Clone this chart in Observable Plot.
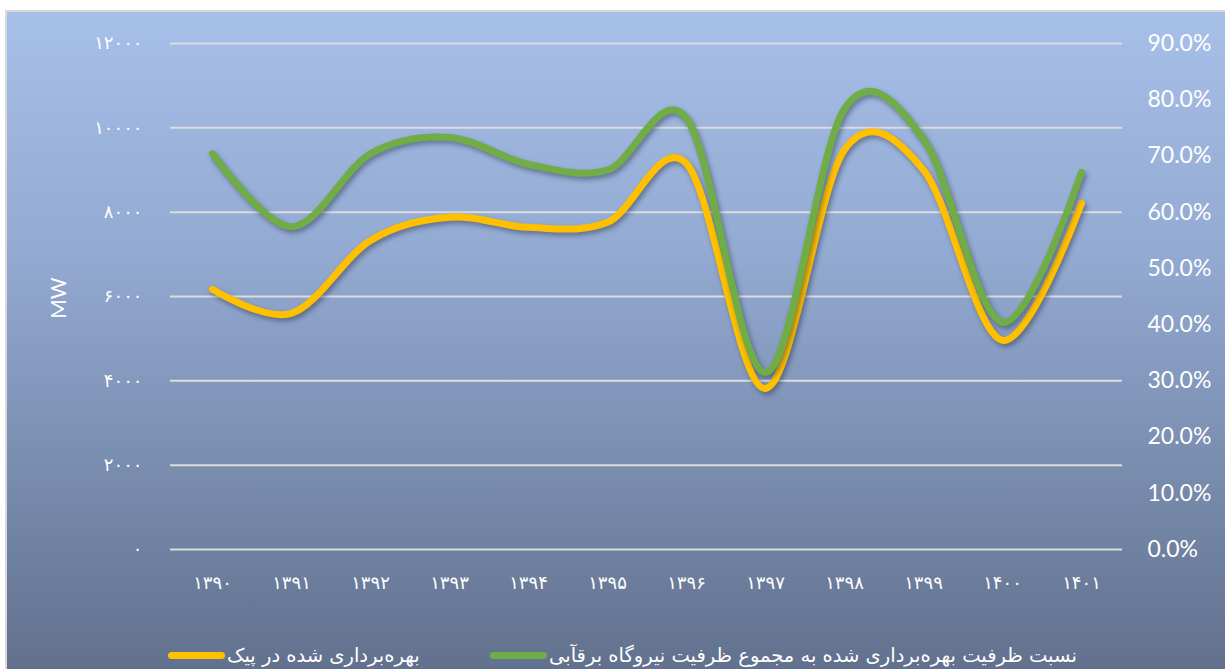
<!DOCTYPE html>
<html>
<head>
<meta charset="utf-8">
<script src="https://cdn.jsdelivr.net/npm/d3@7"></script>
<script src="https://cdn.jsdelivr.net/npm/@observablehq/plot@0.6"></script>
<style>
html,body{margin:0;padding:0;background:#fff;width:1225px;height:669px;overflow:hidden;position:relative;}
#bg{position:absolute;left:5px;top:10px;width:1240px;height:680px;box-sizing:border-box;border-left:2px solid #d9d9d9;border-top:2px solid #d9d9d9;
  background:linear-gradient(to bottom,#a7c0e9 0%,#93aad2 35%,#7b8fb1 65%,#5f6e8a 100%);}
#chart{position:absolute;left:0;top:0;}
#chart g[aria-label="line"] path{filter:drop-shadow(2px 3px 2.5px rgba(30,40,60,0.45));}
#chart g[aria-label="y-axis tick label"][text-anchor="end"] text{letter-spacing:2.5px;}
#chart g[aria-label="x-axis tick label"] text{letter-spacing:1.5px;}
#mw{position:absolute;left:57px;top:298px;transform:translate(-50%,-50%) rotate(-90deg);font-family:Lato,"Open Sans",sans-serif;font-size:21px;color:#fff;white-space:nowrap;}
.item{position:absolute;top:641px;height:28px;display:flex;align-items:center;}
.sw{width:57px;height:7px;border-radius:4px;}
.lt{font-family:"DejaVu Sans",sans-serif;font-size:19.5px;color:#fff;direction:rtl;white-space:nowrap;margin-left:2px;}
</style>
</head>
<body>
<div id="bg"></div>
<div id="chart"></div>
<div id="mw">MW</div>
<div class="item" style="left:168px"><div class="sw" style="background:#ffc000"></div><div class="lt" id="l1"></div></div>
<div class="item" style="left:490px"><div class="sw" style="background:#70ad47"></div><div class="lt" id="l2"></div></div>
<script>
// Categories (Persian years)
const years = ["۱۳۹۰","۱۳۹۱","۱۳۹۲","۱۳۹۳","۱۳۹۴","۱۳۹۵","۱۳۹۶","۱۳۹۷","۱۳۹۸","۱۳۹۹","۱۴۰۰","۱۴۰۱"];
// Exploited capacity at peak (MW) - left axis
const peakMW = [6170, 5600, 7330, 7880, 7640, 7760, 9150, 3820, 9480, 9000, 4960, 8210];
// Ratio of exploited capacity to total hydro capacity (%) - right axis
const ratioPct = [70.4, 57.4, 70.4, 73.3, 68.5, 67.5, 76.7, 31.5, 78.4, 73.0, 40.4, 67.1];
// Tick values
const leftTicks = [0, 2000, 4000, 6000, 8000, 10000, 12000];
const rightTicks = [0, 10, 20, 30, 40, 50, 60, 70, 80, 90];
const seriesNames = ["بهره‌برداری شده در پیک", "نسبت ظرفیت بهره‌برداری شده به مجموع ظرفیت نیروگاه برقآبی"];
const leftMax = 12000, rightMax = 90;

const faDigits = "۰۱۲۳۴۵۶۷۸۹";
const toFa = n => String(n).replace(/[0-9]/g, c => faDigits[+c]);

const data = years.map((y, i) => ({year: y, mw: peakMW[i], pct: ratioPct[i]}));

const chart = Plot.plot({
  width: 1225,
  height: 600,
  marginLeft: 170,
  marginRight: 103,
  marginTop: 43,
  marginBottom: 51,
  style: {background: "transparent", color: "#ffffff", overflow: "visible"},
  x: {type: "point", domain: years, padding: 0.5},
  y: {domain: [0, leftMax]},
  marks: [
    Plot.gridY(leftTicks, {stroke: "#dcdcdc", strokeOpacity: 1, strokeWidth: 2}),
    Plot.axisY(leftTicks, {anchor: "left", tickSize: 0, tickPadding: 28, tickFormat: toFa, label: null,
      fontFamily: "DejaVu Sans", fontSize: 18, fill: "#ffffff"}),
    Plot.axisY(rightTicks.map(p => p / rightMax * leftMax), {anchor: "right", tickSize: 0, tickPadding: 25, label: null,
      tickFormat: (d, i) => rightTicks[i].toFixed(1) + "%", textAnchor: "start",
      fontFamily: "Lato", fontSize: 23, fill: "#ffffff"}),
    Plot.axisX({tickSize: 0, tickPadding: 27, label: null, fontFamily: "DejaVu Sans", fontSize: 18, fill: "#ffffff"}),
    Plot.line(data, {x: "year", y: "mw", stroke: "#ffc000", strokeWidth: 7, curve: "cardinal", tension: 0, strokeLinecap: "round"}),
    Plot.line(data, {x: "year", y: d => d.pct / rightMax * leftMax, stroke: "#70ad47", strokeWidth: 7, curve: "cardinal", tension: 0, strokeLinecap: "round"})
  ]
});
document.getElementById("chart").appendChild(chart);
document.getElementById("l1").textContent = seriesNames[0];
document.getElementById("l2").textContent = seriesNames[1];
</script>
</body>
</html>
